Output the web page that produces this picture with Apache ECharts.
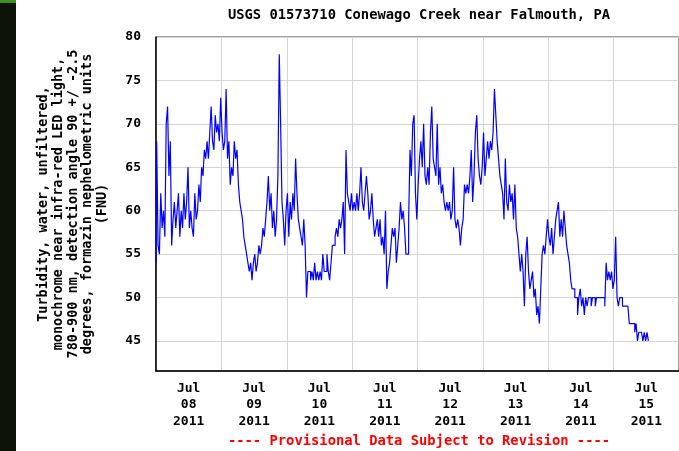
<!DOCTYPE html>
<html><head><meta charset="utf-8">
<script src="https://cdn.jsdelivr.net/npm/echarts@6/dist/echarts.min.js"></script>
<style>html,body{margin:0;padding:0;background:#fff;overflow:hidden}#c{width:679px;height:451px}</style>
</head><body><div id="c"></div>
<script>
const chartTitle = 'USGS 01573710 Conewago Creek near Falmouth, PA';
const footnote = '---- Provisional Data Subject to Revision ----';
const yAxisTitleLines = [
  'Turbidity, water, unfiltered,',
  'monochrome near infra-red LED light,',
  '780-900 nm, detection angle 90 +/ -2.5',
  'degrees, formazin nephelometric units',
  '(FNU)'
];
const yTicks = [45, 50, 55, 60, 65, 70, 75, 80];
const yMin = 41.54, yMax = 80;
const dayBoundaries = ['2011-07-08', '2011-07-09', '2011-07-10', '2011-07-11', '2011-07-12', '2011-07-13', '2011-07-14', '2011-07-15', '2011-07-16'];
const dayLabels = ['Jul\n08\n2011', 'Jul\n09\n2011', 'Jul\n10\n2011', 'Jul\n11\n2011', 'Jul\n12\n2011', 'Jul\n13\n2011', 'Jul\n14\n2011', 'Jul\n15\n2011'];
const seriesStart = '2011-07-08T00:00:00Z';
const stepMinutes = 30;

// Turbidity (FNU), 30-minute readings
const fnuJul08 = [54,68,56,55,62,58,60,57,70,72,64,68,56,59,61,58,60,62,57,60,58,62,59,61,65,58,60,58,57,62,59,60,63,61,65,64,67,66,68,66,69,72,68,67,71,69,70,68];
const fnuJul09 = [73,69,67,68,74,66,68,63,65,64,68,66,67,63,61,60,59,57,56,55,54,53,54,52,54,55,53,54,56,55,56,58,57,59,61,64,60,62,58,60,57,59,64,78,70,61,59,56];
const fnuJul10 = [60,62,57,61,59,62,60,66,62,59,58,57,56,59,56,50,53,53,52,53,52,54,52,53,52,53,52,55,53,53,55,53,52,54,56,56,57,58,57,59,58,59,61,55,67,62,61,60];
const fnuJul11 = [62,60,61,60,62,60,62,65,61,60,62,64,62,59,60,62,59,57,58,59,57,59,56,57,55,60,51,53,54,56,58,57,58,54,56,58,61,59,60,58,55,55,59,67,64,70,71,62];
const fnuJul12 = [59,63,66,68,65,70,64,63,65,63,69,72,66,65,64,70,63,65,62,63,61,60,61,60,61,59,60,65,59,58,59,58,56,58,59,63,62,63,62,64,67,61,64,69,71,66,64,63];
const fnuJul13 = [65,69,64,66,68,66,68,67,69,74,71,68,66,64,63,62,59,66,61,60,63,61,62,59,63,58,57,55,53,55,53,49,55,57,53,51,52,53,50,51,48,49,47,51,55,56,55,57];
const fnuJul14 = [59,57,56,58,55,57,59,60,61,57,59,57,60,58,56,55,54,52,51,51,50,50,48,50,51,49,50,48,50,49,50,50,49,50,50,49,50,50,50,50,50,50,49,54,52,53,52,53];
const fnuJul15 = [51,52,57,50,49,50,50,49,49,49,49,49,47,47,47,47,46,47,45,46,46,46,45,46,45,46,45];

const allValues = [].concat(fnuJul08, fnuJul09, fnuJul10, fnuJul11, fnuJul12, fnuJul13, fnuJul14, fnuJul15);
const t0 = Date.parse(seriesStart);
const seriesData = allValues.map((v, i) => [t0 + i * stepMinutes * 60000, v]);
const dayMs = 86400000;
const midnights = dayBoundaries.map(d => Date.parse(d + 'T00:00:00Z'));
const noons = midnights.slice(0, 8).map(m => m + dayMs / 2);

const FONT = '"DejaVu Sans Mono", "Liberation Mono", monospace';
const chart = echarts.init(document.getElementById('c'), null, {renderer: 'canvas'});
chart.setOption({
  animation: false,
  backgroundColor: '#ffffff',
  grid: {left: 156, top: 37, width: 526, height: 334, show: true, borderColor: '#444', borderWidth: 1, backgroundColor: '#fff'},
  xAxis: {
    type: 'value',
    min: midnights[0], max: midnights[8],
    axisLine: {show: true, onZero: false, lineStyle: {color: '#000', width: 1.5}},
    axisTick: {show: false, customValues: midnights},
    splitLine: {show: true, lineStyle: {color: '#d4d4d4', width: 1}},
    axisLabel: {
      customValues: noons,
      margin: 9,
      color: '#000', fontFamily: FONT, fontWeight: 'bold', fontSize: 13, lineHeight: 16.5,
      formatter: function (v) { const k = Math.floor((v - midnights[0]) / dayMs); return dayLabels[k] || ''; }
    }
  },
  yAxis: {
    type: 'value', min: yMin, max: yMax,
    axisLine: {show: true, lineStyle: {color: '#000', width: 1.5}},
    axisTick: {show: false, customValues: yTicks},
    splitLine: {show: true, lineStyle: {color: '#d4d4d4', width: 1}},
    axisLabel: {customValues: yTicks, margin: 15, color: '#000', fontFamily: FONT, fontWeight: 'bold', fontSize: 13}
  },
  series: [{
    type: 'line', data: seriesData, showSymbol: false, symbol: 'none', step: 'middle',
    lineStyle: {color: '#0000ff', width: 1.2}, clip: true
  }],
  graphic: [
    {type: 'rect', shape: {x: 0, y: 0, width: 16, height: 451}, style: {fill: '#0e1309'}, z: 100},
    {type: 'rect', shape: {x: 0, y: 0, width: 16, height: 3}, style: {fill: '#3f8f22'}, z: 101},
    {type: 'text', x: 419, y: 15, z: 100, style: {text: chartTitle, align: 'center', verticalAlign: 'middle', font: 'bold 13.8px ' + FONT, fill: '#000'}},
    {type: 'text', x: 419, y: 441, z: 100, style: {text: footnote, align: 'center', verticalAlign: 'middle', font: 'bold 13.8px ' + FONT, fill: '#ff0000'}},
    {type: 'text', x: 73, y: 204, rotation: Math.PI / 2, z: 100, style: {text: yAxisTitleLines.join('\n'), align: 'center', verticalAlign: 'middle', font: 'bold 13.5px ' + FONT, lineHeight: 14.7, fill: '#000'}}
  ]
});
</script></body></html>
